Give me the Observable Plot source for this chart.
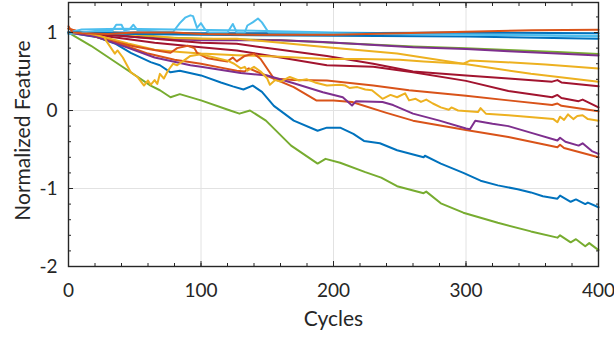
<!DOCTYPE html>
<html>
<head>
<meta charset="utf-8">
<script src="https://cdn.jsdelivr.net/npm/d3@7"></script>
<script src="https://cdn.jsdelivr.net/npm/@observablehq/plot@0.6"></script>
<style>
  html, body { margin: 0; padding: 0; background: #fff; }
  svg { display: block; }
</style>
</head>
<body>
<div id="chart"></div>
<script>
// ---- data: [cycle, normalized feature] ----
const blueLow = [[0,1],[22,0.94],[35,0.86],[47,0.74],[62,0.62],[69,0.58],[77,0.49],[84,0.51],[100,0.45],[115,0.36],[124,0.31],[132,0.27],[139,0.32],[146,0.24],[155,0.06],[170,-0.13],[188,-0.26],[195,-0.22],[205,-0.22],[215,-0.3],[223,-0.39],[235,-0.42],[248,-0.51],[268,-0.6],[269,-0.58],[281,-0.68],[298,-0.8],[311,-0.9],[324,-0.96],[339,-1.01],[349,-1.05],[358,-1.1],[369,-1.13],[371,-1.09],[379,-1.17],[383,-1.14],[390,-1.2],[392,-1.18],[400,-1.24]];
const greenLow = [[0,1],[17,0.83],[39,0.58],[62,0.32],[69,0.26],[77,0.17],[84,0.21],[100,0.13],[122,0],[129,-0.04],[137,0],[149,-0.13],[168,-0.45],[188,-0.68],[194,-0.62],[205,-0.67],[224,-0.79],[236,-0.86],[248,-0.97],[268,-1.06],[270,-1.04],[281,-1.19],[298,-1.31],[324,-1.44],[349,-1.55],[369,-1.63],[371,-1.6],[379,-1.69],[383,-1.65],[390,-1.74],[393,-1.7],[400,-1.79]];
const greenTop = [[0,1],[50,0.95],[100,0.92],[160,0.9],[200,0.87],[260,0.82],[300,0.8],[332,0.775],[369,0.75],[400,0.725]];
const purpleTop = [[0,1],[30,0.97],[60,0.93],[100,0.9],[160,0.9],[192,0.88],[260,0.81],[300,0.79],[332,0.76],[369,0.73],[400,0.705]];
const purpleLow = [[0,1],[20,0.95],[44,0.81],[65,0.68],[92,0.58],[100,0.56],[130,0.48],[150,0.45],[170,0.35],[192,0.235],[207,0.17],[214,0.065],[217,0.12],[237,0.11],[245,0.07],[260,-0.04],[280,-0.13],[300,-0.23],[303,-0.24],[307,-0.13],[320,-0.17],[332,-0.2],[350,-0.29],[369,-0.385],[371,-0.35],[375,-0.4],[385,-0.45],[388,-0.42],[395,-0.52],[400,-0.555]];
const darkRedG = [[0,1],[30,0.97],[65,0.92],[100,0.87],[127,0.855],[160,0.78],[195,0.7],[230,0.6],[260,0.5],[300,0.45],[332,0.41],[365,0.37],[369,0.39],[372,0.36],[400,0.31]];
const darkRedH = [[0,1],[30,0.95],[65,0.87],[100,0.81],[127,0.77],[160,0.68],[195,0.58],[230,0.56],[260,0.49],[300,0.38],[332,0.25],[365,0.17],[369,0.2],[372,0.16],[385,0.12],[388,0.14],[400,0.04]];
const yellowE = [[0,1],[15,0.97],[27,0.94],[45,0.86],[65,0.78],[84,0.75],[100,0.73],[127,0.71],[160,0.69],[195,0.66],[220,0.66],[250,0.65],[268,0.63],[298,0.6],[303,0.64],[330,0.62],[360,0.59],[400,0.54]];
const yellowF = [[0,1],[20,1.0],[30,1.01],[50,0.97],[62,0.96],[80,0.93],[100,0.92],[127,0.92],[160,0.87],[195,0.81],[248,0.73],[298,0.6],[349,0.47],[400,0.37]];
const yellowJ = [[0,1],[10,1.0],[20,0.97],[27,0.94],[29,0.88],[35,0.73],[37,0.77],[41,0.68],[47,0.49],[52,0.43],[57,0.32],[60,0.385],[62,0.33],[65,0.39],[67,0.34],[69,0.47],[72,0.41],[75,0.51],[79,0.6],[82,0.58],[87,0.64],[92,0.7],[100,0.72],[110,0.68],[120,0.64],[125,0.6],[130,0.54],[133,0.56],[135,0.51],[140,0.56],[145,0.5],[150,0.41],[152,0.33],[156,0.39],[160,0.37],[167,0.43],[174,0.385],[180,0.4],[186,0.36],[195,0.32],[205,0.33],[209,0.32],[212,0.29],[218,0.3],[224,0.27],[229,0.26],[237,0.15],[243,0.2],[248,0.17],[254,0.22],[257,0.13],[262,0.15],[266,0.11],[270,0.14],[275,0.09],[281,0.04],[287,0.01],[289,0.04],[294,0],[309,-0.02],[311,0.03],[315,-0.04],[332,-0.06],[366,-0.11],[369,-0.15],[371,-0.08],[374,-0.12],[377,-0.05],[381,-0.11],[384,-0.07],[388,-0.06],[392,-0.11],[400,-0.13]];
const orangeI = [[0,1.05],[10,1.0],[30,0.9],[50,0.82],[70,0.76],[77,0.74],[82,0.8],[90,0.83],[95,0.8],[97,0.74],[105,0.67],[115,0.64],[120,0.63],[124,0.68],[127,0.63],[133,0.7],[140,0.73],[145,0.66],[155,0.41],[170,0.39],[195,0.385],[230,0.32],[257,0.26],[300,0.19],[332,0.13],[365,0.07],[369,0.09],[372,0.06],[400,-0.01]];
const orangeM = [[0,1.05],[20,0.95],[40,0.85],[60,0.73],[80,0.65],[100,0.6],[115,0.55],[127,0.51],[133,0.5],[136,0.54],[152,0.43],[170,0.3],[187,0.13],[200,0.13],[214,0.11],[240,-0.03],[260,-0.13],[300,-0.25],[332,-0.34],[369,-0.47],[371,-0.44],[374,-0.48],[400,-0.6]];
const blueTop2 = [[0,1],[50,0.98],[100,0.97],[200,0.96],[300,0.95],[400,0.92]];
const lightBlue1 = [[0,1.0],[10,1.04],[40,1.05],[80,1.04],[120,1.03],[200,1.0],[300,0.98],[400,0.95]];
const blueTop1 = [[0,1],[50,1.0],[100,0.99],[200,0.99],[300,1.0],[400,0.99]];
const lightBlue2 = [[0,0.98],[20,1.02],[33,1.02],[36,1.1],[40,1.1],[42,1.03],[46,1.04],[49,1.1],[52,1.03],[70,1.01],[79,1.01],[84,1.12],[88,1.19],[92,1.22],[94,1.21],[97,1.06],[100,1.12],[103,1.04],[106,1.0],[120,1.0],[124,1.11],[127,1.0],[133,1.0],[135,1.09],[139,1.13],[143,1.18],[146,1.13],[151,1.0],[200,0.99],[300,0.97],[400,0.96]];
const orangeTop = [[0,1.08],[3,1.0],[10,0.99],[30,0.98],[50,1.0],[80,1.0],[100,0.98],[150,0.97],[170,0.97],[200,0.97],[250,0.99],[300,1.01],[350,1.03],[400,1.035]];

const xTicks = [0, 100, 200, 300, 400];
const yTicks = [-2, -1, 0, 1];
const xMinor = d3.range(0, 401, 20);
const yMinor = d3.range(-20, 14, 2).map(v => v / 10);
const xLabel = "Cycles";
const yLabel = "Normalized Feature";

const C = {
  blue: "#0072BD", orange: "#D95319", yellow: "#EDB120", purple: "#7E2F8E",
  green: "#77AC30", lightblue: "#4DBEEE", darkred: "#A2142F"
};

const series = [
  [blueLow, C.blue], [greenLow, C.green], [greenTop, C.green], [purpleTop, C.purple],
  [darkRedG, C.darkred], [darkRedH, C.darkred], [yellowE, C.yellow], [yellowF, C.yellow],
  [orangeI, C.orange], [orangeM, C.orange], [purpleLow, C.purple], [yellowJ, C.yellow],
  [blueTop2, C.blue], [lightBlue1, C.lightblue], [blueTop1, C.blue], [lightBlue2, C.lightblue],
  [orangeTop, C.orange]
];

const font = "Lato, 'Open Sans', sans-serif";
const ink = "#262626";

const chart = Plot.plot({
  width: 614,
  height: 341,
  marginLeft: 68,
  marginRight: 16,
  marginTop: 2,
  marginBottom: 75,
  style: { fontFamily: font, fontSize: "20px", color: ink, background: "#fff", overflow: "visible" },
  x: { domain: [0, 400] },
  y: { domain: [-2, 1.385] },
  marks: [
    Plot.ruleX([100, 200, 300], { stroke: "#e2e2e2", strokeWidth: 1 }),
    Plot.ruleY(yTicks, { stroke: "#e2e2e2", strokeWidth: 1 }),
    ...series.map(([pts, col]) => Plot.line(pts, {
      x: d => d[0], y: d => d[1], stroke: col, strokeWidth: 2, strokeLinejoin: "round"
    })),
    // minor ticks (inward) on all four sides
    Plot.axisX({ anchor: "bottom", ticks: xMinor, tickSize: -3, tickFormat: () => "", label: null, stroke: ink }),
    Plot.axisX({ anchor: "top", ticks: xMinor, tickSize: -3, tickFormat: () => "", label: null, stroke: ink }),
    Plot.axisY({ anchor: "left", ticks: yMinor, tickSize: -3, tickFormat: () => "", label: null, stroke: ink }),
    Plot.axisY({ anchor: "right", ticks: yMinor, tickSize: -3, tickFormat: () => "", label: null, stroke: ink }),
    // major ticks
    Plot.axisX({ anchor: "bottom", ticks: xTicks, tickSize: -5, tickPadding: 22, tickFormat: d => String(d), label: null, stroke: ink, fill: ink, fontSize: 19 }),
    Plot.axisX({ anchor: "top", ticks: xTicks, tickSize: -5, tickFormat: () => "", label: null, stroke: ink }),
    Plot.axisY({ anchor: "left", ticks: yTicks, tickSize: -5, tickPadding: 16, tickFormat: d => String(d), label: null, stroke: ink, fill: ink, fontSize: 19 }),
    Plot.axisY({ anchor: "right", ticks: yTicks, tickSize: -5, tickFormat: () => "", label: null, stroke: ink }),
    Plot.frame({ stroke: ink, strokeWidth: 1.4 }),
    Plot.text([xLabel], { frameAnchor: "bottom", dy: 59, text: d => d, fontSize: 21, fill: ink, textAnchor: "middle" }),
    Plot.text([yLabel], { frameAnchor: "left", dx: -45, dy: -4, rotate: -90, text: d => d, fontSize: 21, fill: ink, textAnchor: "middle" })
  ]
});

document.getElementById("chart").appendChild(chart);
</script>
</body>
</html>
